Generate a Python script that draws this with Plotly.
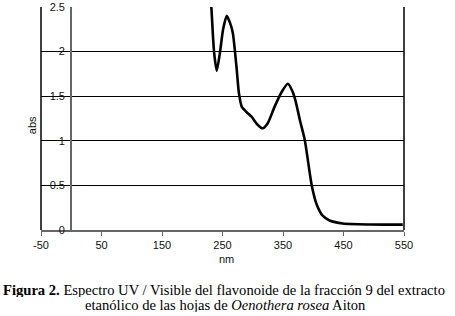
import plotly.graph_objects as go

# Spectrum
wavelength_nm = [229, 232, 236, 240.5, 246, 251, 257, 262, 267, 273.5, 277, 282, 290, 298, 308, 316.5,
                 325, 336, 348, 358, 366, 371, 378, 386, 397.5, 406, 415.5, 427, 449, 493, 548]
absorbance = [2.8, 2.45, 2.0, 1.785, 2.0, 2.25, 2.40, 2.33, 2.21, 1.80, 1.54, 1.38, 1.32, 1.27, 1.18, 1.14,
              1.20, 1.38, 1.55, 1.64, 1.55, 1.44, 1.23, 1.01, 0.50, 0.28, 0.16, 0.107, 0.073, 0.062, 0.06]

x_ticks = [-50, 50, 150, 250, 350, 450, 550]
y_ticks = [0, 0.5, 1, 1.5, 2, 2.5]
y_tick_labels = ["0", "0.5", "1", "1.5", "2", "2.5"]

W, H = 455, 316
L, R, T, B = 41, 51, 7, 86
pw = W - L - R
ph = H - T - B

def py_to_paper(py):
    return (H - B - py) / ph

def px_to_paper(px):
    return (px - L) / pw

fig = go.Figure()
fig.add_trace(go.Scatter(x=wavelength_nm, y=absorbance, mode="lines",
                         line=dict(color="black", width=2.6, shape="spline", smoothing=0.6),
                         hoverinfo="skip", showlegend=False))

xmin, xmax = -50, 550
ypos = (0 - xmin) / (xmax - xmin)

fig.update_layout(
    width=W, height=H,
    margin=dict(l=L, r=R, t=T, b=B, autoexpand=False),
    paper_bgcolor="white", plot_bgcolor="white",
    font=dict(family="Liberation Sans, Arial, sans-serif", size=11, color="#111"),
    xaxis=dict(range=[xmin, xmax], tickvals=x_ticks, ticktext=[str(v) for v in x_ticks],
               showgrid=False, zeroline=False, showline=True, linecolor="#666", linewidth=1.5,
               ticks="outside", ticklen=4, tickcolor="#666", tickwidth=1.2,
               tickfont=dict(size=11), domain=[0, 1], automargin=False),
    yaxis=dict(range=[0, 2.5], tickvals=y_ticks, ticktext=[t + "\u00a0" for t in y_tick_labels],
               anchor="free", position=ypos, showgrid=True, gridcolor="black", gridwidth=1.3,
               zeroline=False, showline=True, linecolor="#666", linewidth=2,
               ticks="", tickfont=dict(size=11), automargin=False),
)

# plot area borders (left/right black)
fig.add_shape(type="line", xref="paper", yref="paper", x0=0, x1=0, y0=0, y1=1,
              line=dict(color="black", width=1.5))
fig.add_shape(type="line", xref="paper", yref="paper", x0=1, x1=1, y0=0, y1=1,
              line=dict(color="black", width=1.5))

# axis titles
fig.add_annotation(text="nm", xref="paper", yref="paper", x=px_to_paper(227), y=py_to_paper(259),
                   showarrow=False, font=dict(size=11, color="#111"), yanchor="middle")
fig.add_annotation(text="abs", xref="paper", yref="paper", x=px_to_paper(32), y=0.47, textangle=-90,
                   showarrow=False, font=dict(size=11, color="#111"), xanchor="center")

# caption (two lines, tight spacing)
cap_font = dict(family="Liberation Serif, Times New Roman, serif", size=14.6, color="black")
fig.add_annotation(text="<b>Figura 2.</b> Espectro UV / Visible del flavonoide de la fracción 9 del extracto",
                   xref="paper", yref="paper", x=px_to_paper(224.5), y=py_to_paper(289.5), height=15,
                   showarrow=False, font=cap_font, yanchor="middle")
fig.add_annotation(text="etanólico de las hojas de <i>Oenothera rosea</i> Aiton",
                   xref="paper", yref="paper", x=px_to_paper(225), y=py_to_paper(304.5), height=15,
                   showarrow=False, font=cap_font, yanchor="middle")

fig.write_html("out.html", config={"displayModeBar": False},
               post_script="document.body.style.margin='0';document.body.style.overflow='hidden';")
